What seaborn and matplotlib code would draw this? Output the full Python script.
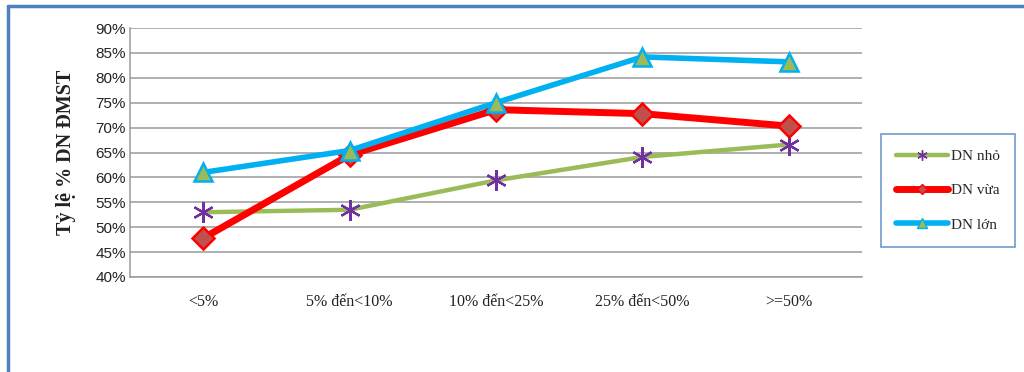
import matplotlib
matplotlib.use("Agg")
import matplotlib.pyplot as plt
import seaborn as sns
import pandas as pd
from matplotlib.lines import Line2D

categories = ["<5%", "5% đến<10%", "10% đến<25%", "25% đến<50%", ">=50%"]
dn_nho = [53.0, 53.5, 59.4, 64.1, 66.6]
dn_vua = [47.8, 64.5, 73.6, 72.8, 70.3]
dn_lon = [61.0, 65.4, 75.0, 84.2, 83.2]
series_names = ["DN nhỏ", "DN vừa", "DN lớn"]
yticks = [40, 45, 50, 55, 60, 65, 70, 75, 80, 85, 90]

sns.set_theme(style="white")
plt.rcParams['font.family'] = ['Liberation Serif', 'DejaVu Serif']

fig = plt.figure(figsize=(10.24, 3.72), dpi=100)
ax = fig.add_axes([130/1024, 1-277/372, (862-130)/1024, (277-28)/372])

xs = list(range(len(categories)))
styles = [
    dict(color="#9bbb59", lw=3.2, marker=(6, 2, 0), ms=15, mfc="#7030a0", mec="#7030a0", mew=1.6, zorder=3),
    dict(color="#ff0000", lw=5.0, marker="D", ms=11, mfc="#c0504d", mec="#ff0000", mew=1.8, zorder=4),
    dict(color="#00b0f0", lw=4.0, marker="^", ms=13, mfc="#9bbb59", mec="#00b0f0", mew=1.8, zorder=5),
]
for name, vals, st in zip(series_names, [dn_nho, dn_vua, dn_lon], styles):
    df = pd.DataFrame({"x": xs, "y": vals})
    sns.lineplot(data=df, x="x", y="y", ax=ax, color=st["color"], linewidth=st["lw"],
                 marker=st["marker"], markersize=st["ms"], markerfacecolor=st["mfc"],
                 markeredgecolor=st["mec"], markeredgewidth=st["mew"], zorder=st["zorder"],
                 legend=False)

ax.set_xlim(-0.5, len(categories) - 0.5)
ax.set_ylim(40, 90)
ax.set_yticks(yticks)
ax.set_yticklabels([f"{v}%" for v in yticks], fontfamily="Liberation Sans", fontsize=11, color="#222222")
ax.set_xticks(xs)
ax.set_xticklabels(categories, fontsize=11.5, color="#222222")
ax.tick_params(axis="x", pad=12, length=0)
ax.tick_params(axis="y", pad=3, length=0)
ax.yaxis.grid(True, color="#9a9a9a", linewidth=1.1)
ax.xaxis.grid(False)
for side in ["top", "right"]:
    ax.spines[side].set_visible(False)
for side in ["left", "bottom"]:
    ax.spines[side].set_color("#9a9a9a")
    ax.spines[side].set_linewidth(1.1)
ax.set_xlabel("")
ax.set_ylabel("")

fig.text(66/1024, 1-152/372, "Tỷ lệ % DN ĐMST", rotation=90, fontsize=14.5, fontweight="bold",
         ha="center", va="center", color="#222222")

handles = [Line2D([], [], color=st["color"], lw=st["lw"], marker=st["marker"], ms=st["ms"]*0.5,
                  mfc=st["mfc"], mec=st["mec"], mew=1) for st in styles]
leg = fig.legend(handles, series_names, loc="upper left",
                 bbox_to_anchor=(881/1024, 1-134/372), fontsize=11, frameon=True,
                 fancybox=False, handlelength=3.4, handletextpad=0.15, labelspacing=1.35,
                 borderpad=1.0, borderaxespad=0)
leg.get_frame().set_edgecolor("#4f81bd")
leg.get_frame().set_linewidth(1.2)

# outer blue frame (top and left edges)
fig.add_artist(Line2D([8/1024, 8/1024], [0, 1-6/372], transform=fig.transFigure, color="#4f81bd", lw=2.5))
fig.add_artist(Line2D([8/1024, 1], [1-6/372, 1-6/372], transform=fig.transFigure, color="#4f81bd", lw=2.5))

fig.savefig("out.png", dpi=100)
